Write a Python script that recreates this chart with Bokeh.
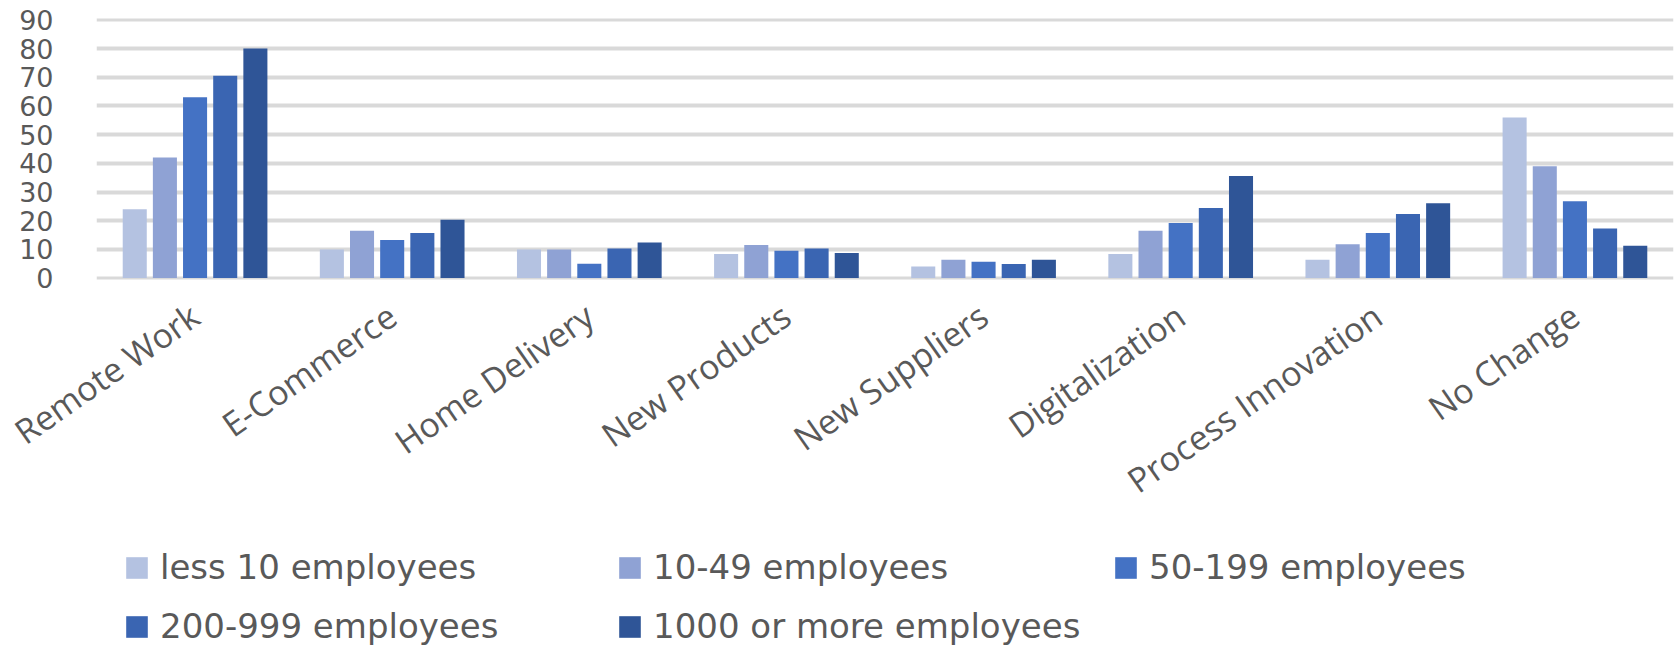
from bokeh.plotting import figure
from bokeh.models import FactorRange, Range1d, FixedTicker, Legend, LegendItem, ColumnDataSource
from bokeh.transform import dodge
from bokeh.layouts import column
from bokeh.embed import file_html
from bokeh.resources import INLINE

categories = ["Remote Work", "E-Commerce", "Home Delivery", "New Products",
              "New Suppliers", "Digitalization", "Process Innovation", "No Change"]
series_names = ["less 10 employees", "10-49 employees", "50-199 employees",
                "200-999 employees", "1000 or more employees"]
less10 = [24, 10, 10, 8.4, 4, 8.4, 6.4, 56]
e10_49 = [42, 16.5, 10, 11.5, 6.4, 16.5, 11.8, 39]
e50_199 = [63, 13.3, 5, 9.5, 5.7, 19.2, 15.7, 26.8]
e200_999 = [70.5, 15.7, 10.3, 10.3, 4.9, 24.4, 22.3, 17.3]
e1000 = [80, 20.3, 12.4, 8.7, 6.4, 35.6, 26.1, 11.3]
y_ticks = [0, 10, 20, 30, 40, 50, 60, 70, 80, 90]

colors = ["#b4c2e1", "#8fa2d4", "#4472c4", "#3a65b2", "#2f5597"]

src = ColumnDataSource(dict(cat=categories, s0=less10, s1=e10_49, s2=e50_199,
                            s3=e200_999, s4=e1000))

W = 1674
H1 = 540
H2 = 106
TOP = 18
FH = 261
p = figure(width=W, height=H1, x_range=FactorRange(*categories, range_padding=0),
           y_range=Range1d(-0.5, 90.5), output_backend="svg", toolbar_location=None,
           min_border_left=96, min_border_right=1, min_border_top=TOP,
           min_border_bottom=H1 - TOP - FH)
p.outline_line_color = None
p.background_fill_color = "white"
p.border_fill_color = "white"

p.xgrid.grid_line_color = None
p.ygrid.grid_line_color = "#d9d9d9"
p.ygrid.grid_line_width = 4
p.yaxis.ticker = FixedTicker(ticks=y_ticks)

for ax in (p.xaxis, p.yaxis):
    ax.axis_line_color = None
    ax.major_tick_line_color = None
    ax.minor_tick_line_color = None
    ax.major_tick_out = 0
    ax.major_tick_in = 0
    ax.major_label_text_color = "#595959"

p.yaxis.major_label_text_font = "DejaVu Sans"
p.yaxis.major_label_text_font_size = "27px"
p.yaxis.major_label_standoff = 43

p.xaxis.major_label_text_font = "Open Sans"
p.xaxis.major_label_text_font_size = "34px"
p.xaxis.major_label_orientation = 0.61
p.xaxis.major_label_standoff = 32

pitch = 0.153
bw = 0.122
for i in range(5):
    p.vbar(x=dodge("cat", (i - 2) * pitch, range=p.x_range), top="s%d" % i,
           width=bw, source=src, fill_color=colors[i], line_color=None)

# legend panel (its frame is aligned with the main frame's left edge)
p2 = figure(width=W, height=H2, x_range=Range1d(0, 1), y_range=Range1d(0, 1),
            output_backend="svg", toolbar_location=None,
            x_axis_location=None, y_axis_location=None,
            min_border_left=0, min_border_right=0, min_border_top=0, min_border_bottom=0)
p2.grid.visible = False
p2.outline_line_color = None
p2.background_fill_color = "white"
p2.border_fill_color = "white"

positions = [(27, 59), (520, 59), (1016, 59), (27, 0), (520, 0)]
for i, (lx, ly) in enumerate(positions):
    r = p2.vbar(x=[0.5], top=[0], width=0.01, fill_color=colors[i], line_color=None)
    lg = Legend(items=[LegendItem(label=series_names[i], renderers=[r])],
                location=(lx, ly), orientation="horizontal",
                glyph_width=27, glyph_height=27, label_standoff=10,
                label_height=27,
                padding=0, margin=0, border_line_color=None,
                background_fill_alpha=0,
                label_text_font="DejaVu Sans", label_text_font_size="34px",
                label_text_color="#595959")
    p2.add_layout(lg, "center")

open("out.html", "w").write(file_html(column(p, p2), INLINE))
